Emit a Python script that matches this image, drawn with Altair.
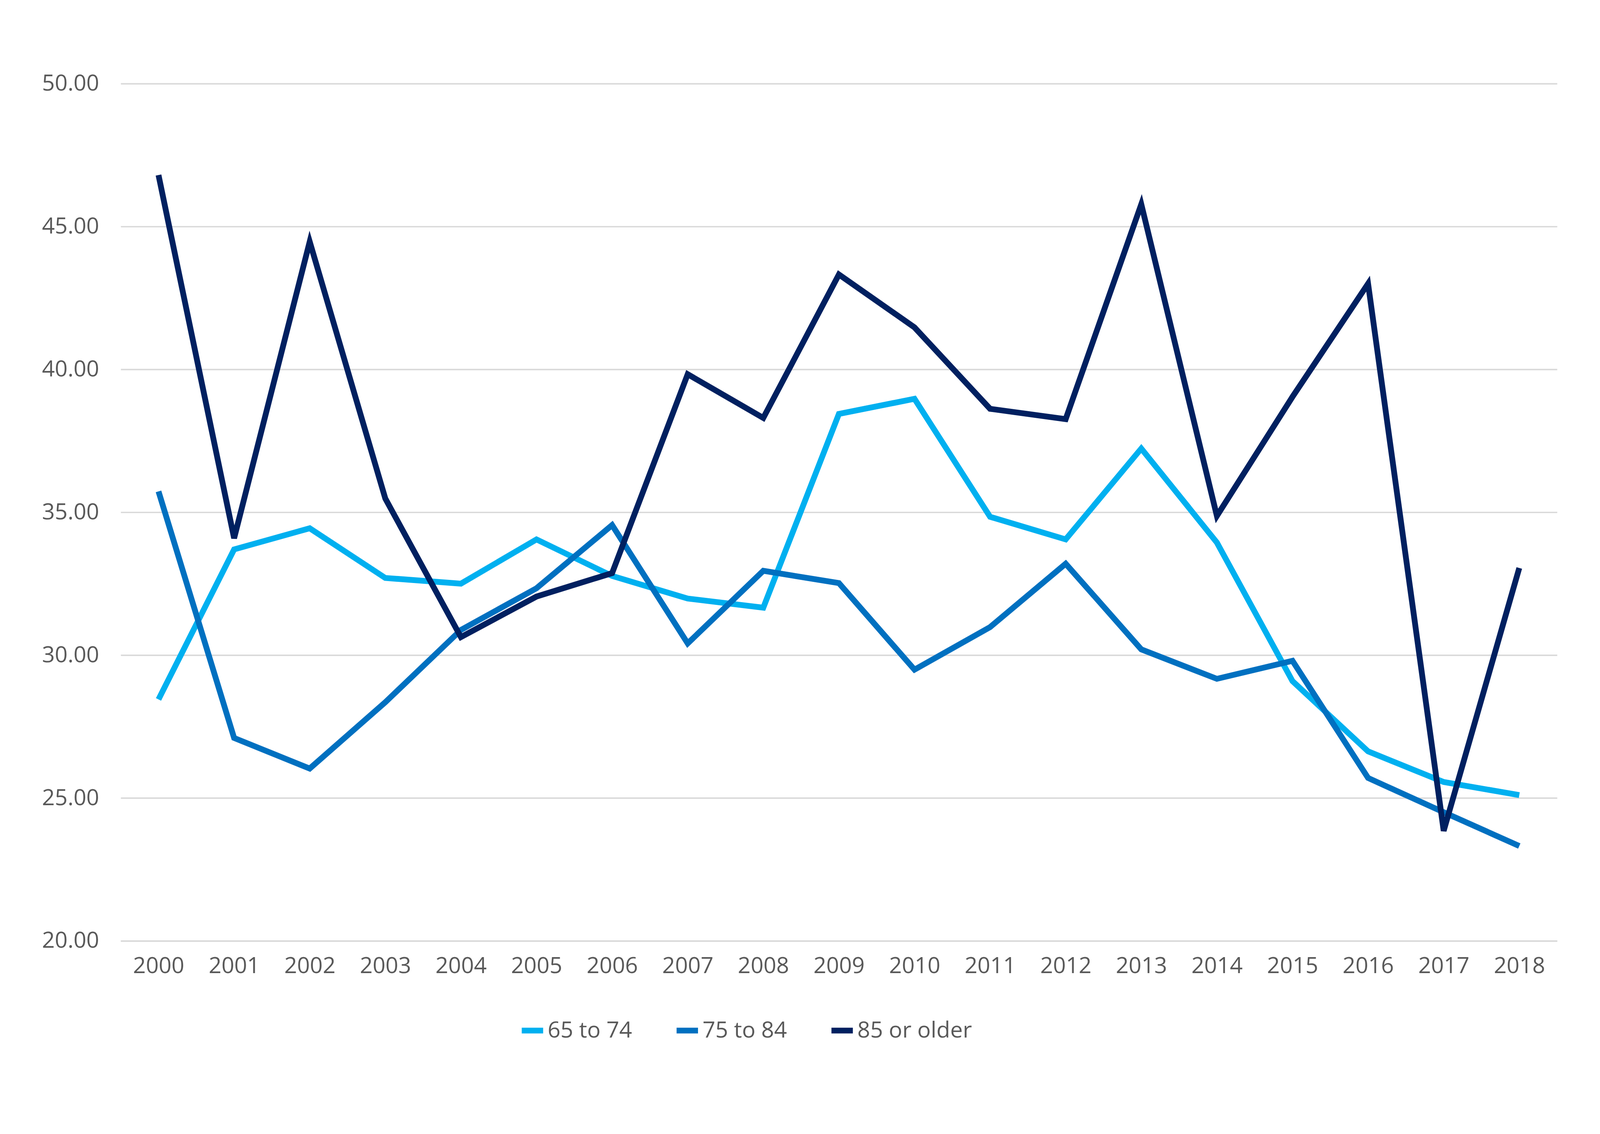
import altair as alt
import pandas as pd

years = [str(y) for y in range(2000, 2019)]
s65 = [28.45, 33.7, 34.44, 32.7, 32.5, 34.05, 32.77, 31.98, 31.66, 38.44, 38.97,
       34.84, 34.05, 37.23, 33.94, 29.09, 26.63, 25.56, 25.1]
s75 = [35.73, 27.1, 26.03, 28.35, 30.88, 32.34, 34.55, 30.41, 32.95, 32.52, 29.49,
       30.98, 33.2, 30.2, 29.17, 29.8, 25.7, 24.5, 23.32]
s85 = [46.8, 34.09, 44.47, 35.48, 30.63, 32.05, 32.87, 39.83, 38.3, 43.32, 41.47,
       38.62, 38.26, 45.78, 34.87, 39.04, 43.0, 23.85, 33.05]
series = ["65 to 74", "75 to 84", "85 or older"]
colors = ["#00B0F0", "#0070C0", "#002060"]

rows = []
for name, vals in zip(series, [s65, s75, s85]):
    for y, v in zip(years, vals):
        rows.append({"year": y, "value": v, "series": name})
df = pd.DataFrame(rows)

font = "Open Sans"

chart = alt.Chart(df).mark_line(strokeWidth=16, strokeJoin="miter").encode(
    x=alt.X("year:O", title=None,
            scale=alt.Scale(paddingOuter=0.5, paddingInner=0),
            axis=alt.Axis(labelAngle=0, ticks=False, domainColor="#D9D9D9",
                          domainWidth=4, labelPadding=40)),
    y=alt.Y("value:Q", title=None,
            scale=alt.Scale(domain=[20, 50], nice=False, zero=False),
            axis=alt.Axis(format=".2f", values=[20, 25, 30, 35, 40, 45, 50],
                          domain=False, ticks=False, gridColor="#D9D9D9",
                          gridWidth=4, labelPadding=60)),
    color=alt.Color("series:N", title=None,
                    scale=alt.Scale(domain=series, range=colors),
                    legend=alt.Legend(orient="none", legendX=1100, legendY=2580,
                                      direction="horizontal",
                                      symbolType="stroke", symbolStrokeWidth=16,
                                      symbolSize=3500, columnPadding=90,
                                      labelLimit=0, labelFontSize=62,
                                      labelColor="#595959")),
).properties(
    width=3970, height=2370,
    autosize=alt.AutoSizeParams(type="none"),
    padding={"left": 325, "right": 110, "top": 108, "bottom": 400},
).configure_axis(
    labelFontSize=62, labelColor="#595959", labelFont=font
).configure_legend(
    labelFont=font
).configure_view(stroke=None)

chart.save("out.html", embed_options={"renderer": "svg", "actions": False})
